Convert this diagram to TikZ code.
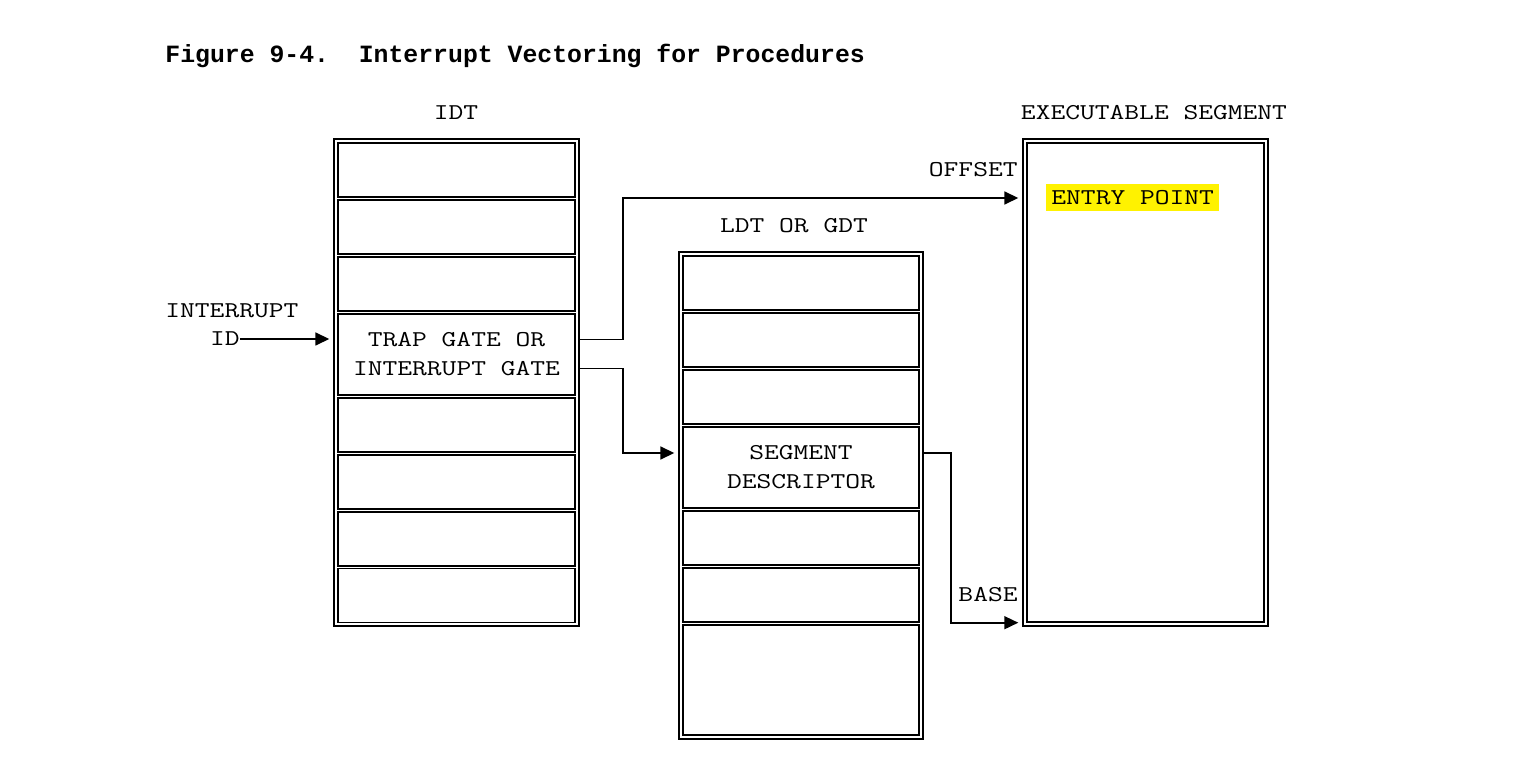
\documentclass[tikz,border=0pt]{standalone}
\usepackage{fontspec}
\setmonofont[FakeStretch=1.27]{Latin Modern Mono}
\newfontfamily\titlefont{Liberation Mono}
\usetikzlibrary{arrows.meta}
\tikzset{
  frame/.style={draw, line width=0.7pt, inner sep=0pt},
  cell/.style={draw, line width=0.7pt, minimum width=118.5pt, minimum height=27pt,
    inner sep=0pt, align=center},
  lbl/.style={inner sep=0pt},
  link/.style={line width=0.8pt, -{Triangle[length=7pt,width=6.5pt]}, shorten >=2pt},
}
\begin{document}
\begin{tikzpicture}[x=0.5pt, y=-0.5pt, font=\ttfamily\fontsize{11.3}{14.5}\selectfont]
  \useasboundingbox (0,0) rectangle (1516,780);
  \node [lbl, anchor=west, font=\titlefont\bfseries\fontsize{12.4}{14.5}\selectfont] (title) at (165,56)
    {Figure 9-4.\ \ Interrupt Vectoring for Procedures};

  % IDT
  \node [lbl] (idtlbl) at (456,113) {IDT};
  \node [frame, minimum width=122.5pt, minimum height=243.5pt] (idt) at (456.5,382.5) {};
  \node [cell] (idt1) at (456.5,170) {};
  \node [cell] (idt2) at (456.5,227) {};
  \node [cell] (idt3) at (456.5,284) {};
  \node [cell, minimum height=40.5pt] (trap) at (456.5,354.5) {TRAP GATE OR\\INTERRUPT GATE};
  \node [cell] (idt5) at (456.5,425) {};
  \node [cell] (idt6) at (456.5,482) {};
  \node [cell] (idt7) at (456.5,539) {};
  \node [cell] (idt8) at (456.5,595.5) {};

  % LDT or GDT
  \node [lbl] (ldtlbl) at (794,226) {LDT OR GDT};
  \node [frame, minimum width=122pt, minimum height=243.5pt] (ldt) at (801,495.5) {};
  \node [cell, minimum width=118pt] (ldt1) at (801,283) {};
  \node [cell, minimum width=118pt] (ldt2) at (801,340) {};
  \node [cell, minimum width=118pt] (ldt3) at (801,397) {};
  \node [cell, minimum width=118pt, minimum height=40.5pt] (segdesc) at (801,467.5) {SEGMENT\\DESCRIPTOR};
  \node [cell, minimum width=118pt] (ldt5) at (801,538) {};
  \node [cell, minimum width=118pt] (ldt6) at (801,595) {};
  \node [cell, minimum width=118pt, minimum height=55pt] (ldt7) at (801,680) {};

  % executable segment
  \node [lbl] (execlbl) at (1154,113) {EXECUTABLE SEGMENT};
  \node [frame, minimum width=122.5pt, minimum height=243.5pt] (exec) at (1145.5,382.5) {};
  \node [cell, minimum height=239.5pt] (execin) at (1145.5,382.5) {};
  \node [fill=yellow, inner xsep=2.5pt, inner ysep=0pt, minimum height=13.5pt, anchor=west]
    (entry) at (1046,198) {ENTRY POINT};
  \node [lbl, anchor=east] (offset) at (1018,170) {OFFSET};
  \node [lbl, anchor=east] (base) at (1018,595) {BASE};

  % interrupt id
  \node [lbl, anchor=west] (intr) at (165,311) {INTERRUPT};
  \node [lbl, anchor=east] (id) at (240,339) {ID};

  \draw [link] (id.east) -- (id.east -| idt.west);
  \draw [link] ([yshift=7.5pt]trap.east -| idt.east) -- ++(43,0) |- (entry.west -| exec.west);
  \draw [link] ([yshift=-7pt]trap.east -| idt.east) -- ++(43,0) |- ([yshift=7.25pt]segdesc.west -| ldt.west);
  \draw [link] ([yshift=7.25pt]segdesc.east -| ldt.east) -- ++(27,0) |- ([yshift=2pt]exec.south west);
\end{tikzpicture}
\end{document}
